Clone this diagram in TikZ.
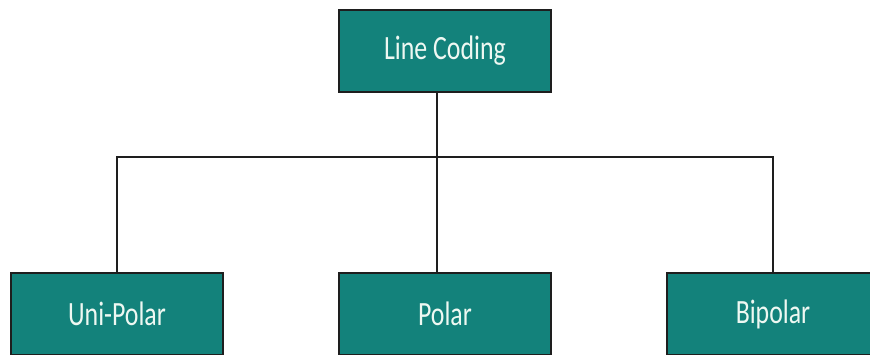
\documentclass[tikz,border=0pt]{standalone}
\usepackage{fontspec}
\newfontfamily\boxfont[FakeStretch=0.76]{Carlito}
\definecolor{tealfill}{HTML}{13827B}
\definecolor{boxtext}{HTML}{EEF8F2}
\definecolor{edge}{HTML}{1E1E1E}
\begin{document}
\begin{tikzpicture}[x=1pt,y=1pt,
  codebox/.style={draw=edge,line width=1.5pt,fill=tealfill,minimum width=212pt,minimum height=82pt,inner sep=0pt,text=boxtext,font=\boxfont\fontsize{34}{40}\selectfont},
  link/.style={draw=edge,line width=1.4pt}]
\useasboundingbox (0,0) rectangle (870,-355);
\node[codebox] (top) at (445,-51) {Line Coding};
\node[codebox] (uni) at (117,-314) {Uni-Polar};
\node[codebox] (pol) at (445,-314) {Polar};
\node[codebox] (bip) at (773,-314) {Bipolar};
\coordinate (j) at (437,-157);
\draw[link] (top.south -| j) -- (j);
\draw[link] (uni.north) |- (j) -| (bip.north);
\draw[link] (j) -- (pol.north -| j);
\end{tikzpicture}
\end{document}
